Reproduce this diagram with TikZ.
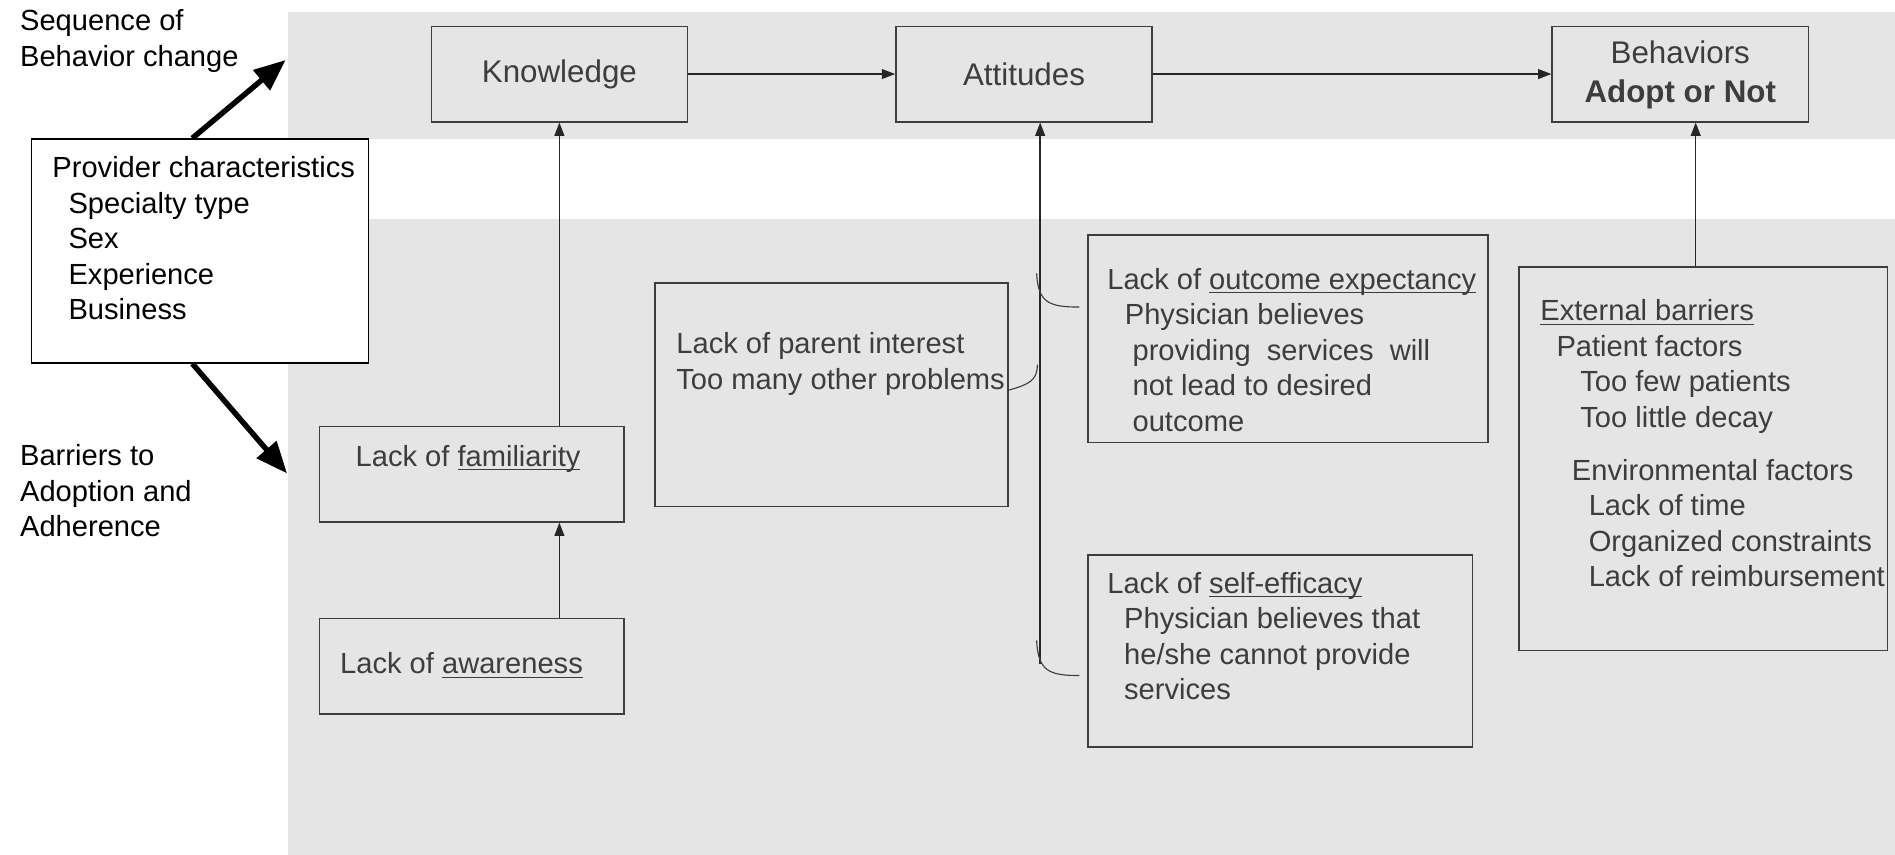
\documentclass[tikz,border=0pt]{standalone}
\usepackage{fontspec}
\setmainfont{Liberation Sans}
\usetikzlibrary{positioning, arrows.meta}
\definecolor{bandgray}{gray}{0.9}
\definecolor{inkgray}{gray}{0.24}
\newcommand{\ulword}[1]{\underline{\smash{#1}}}
\tikzset{
>={Triangle[length=0.19cm,width=0.14cm]}, % small filled heads
box/.style={draw=inkgray, line width=0.6pt, inner sep=0pt},
stage/.style={box, minimum width=3.65cm, minimum height=1.36cm, text=inkgray, align=center, font=\fontsize{12.7}{15.6}\selectfont},
txt/.style={text=inkgray, align=left, inner sep=0pt, font=\fontsize{11.8}{14.4}\selectfont},
lbl/.style={align=left, inner sep=0pt, font=\fontsize{11.8}{14.4}\selectfont},
link/.style={draw=black!85, line width=0.6pt, ->},
hook/.style={draw=inkgray, line width=0.45pt},
bigarrow/.style={line width=2.2pt, -{Triangle[length=0.45cm,width=0.36cm]}},
}
\begin{document}
\begin{tikzpicture}
        \useasboundingbox (0,0) rectangle (27.0,12.175);
        % shaded bands
        \fill[bandgray] (4.10,10.195) rectangle (27.0,12.008);
        \fill[bandgray] (4.10,0) rectangle (27.0,9.05);

        % sequence of behavior change
        \node[stage] at (7.97,11.12) (know) {\raisebox{-0.04cm}{Knowledge}};
        \node[stage] at (14.59,11.12) (att) {Attitudes};
        \node[stage, text depth=0.07cm] at (23.94,11.12) (beh) {Behaviors\\\textbf{Adopt or Not}};

        % left side labels
        \node[lbl, anchor=west] at (0.28,11.59) (seq) {Sequence of\\Behavior change};
        \node[lbl, anchor=west] at (0.28,5.18) (barr) {Barriers to\\Adoption and\\Adherence};
        \node[draw, fill=white, line width=0.6pt, minimum width=4.80cm, minimum height=3.19cm] at (2.85,8.60) (prov) {};
        \node[lbl, anchor=west] at (0.74,8.78) (provtxt) {Provider characteristics\\\hspace*{0.23cm}Specialty type\\\hspace*{0.23cm}Sex\\\hspace*{0.23cm}Experience\\\hspace*{0.23cm}Business};

        % barriers
        \node[box, minimum width=4.34cm, minimum height=1.36cm] at (6.72,5.42) (fam) {};
        \node[txt, anchor=west] at (5.06,5.65) (famtxt) {Lack of \ulword{familiarity}};
        \node[box, minimum width=4.34cm, minimum height=1.36cm] at (6.72,2.68) (aware) {};
        \node[txt, anchor=west] at (4.84,2.69) (awaretxt) {Lack of \ulword{awareness}};
        \node[box, minimum width=5.03cm, minimum height=3.19cm] at (11.85,6.55) (par) {};
        \node[txt, anchor=west] at (9.63,6.99) (partxt) {Lack of parent interest\\Too many other problems};
        \node[box, minimum width=5.70cm, minimum height=2.96cm] at (18.35,7.35) (out) {};
        \node[txt, anchor=west] at (15.77,7.19) (outtxt) {Lack of \ulword{outcome expectancy}\\\hspace*{0.25cm}Physician believes\\\hspace*{0.36cm}providing~ services~ will\\\hspace*{0.36cm}not lead to desired\\\hspace*{0.36cm}outcome};
        \node[box, minimum width=5.48cm, minimum height=2.74cm] at (18.24,2.90) (self) {};
        \node[txt, anchor=west] at (15.77,3.11) (selftxt) {Lack of \ulword{self-efficacy}\\\hspace*{0.24cm}Physician believes that\\\hspace*{0.24cm}he/she cannot provide\\\hspace*{0.24cm}services};
        \node[box, minimum width=5.25cm, minimum height=5.46cm] at (24.27,5.64) (ext) {};
        \node[txt, anchor=west] at (21.94,5.71) (exttxt) {\ulword{External barriers}\\\hspace*{0.23cm}Patient factors\\\hspace*{0.57cm}Too few patients\\\hspace*{0.57cm}Too little decay\\[7pt]\hspace*{0.45cm}Environmental factors\\\hspace*{0.69cm}Lack of time\\\hspace*{0.69cm}Organized constraints\\\hspace*{0.69cm}Lack of reimbursement};

        % connectors
        \coordinate (spine) at (14.82,2.72);
        \coordinate (hooktop) at (14.77,8.28);
        \coordinate (hookmid) at (14.78,6.98);
        \coordinate (hookbot) at (14.77,3.05);
        \coordinate (seqtip) at (4.07,11.32);
        \coordinate (barrtip) at (4.09,5.43);
        \draw[link] (know.east) -- (att.west);
        \draw[link] (att.east) -- (beh.west);
        \draw[link] (fam.north -| know.south) -- (know.south);
        \draw[link] (aware.north -| know.south) -- (fam.south -| know.south);
        \draw[link] (spine) -- (att.south -| spine);
        \draw[link] (ext.north -| 24.16,0) -- (beh.south -| 24.16,0);
        \draw[hook] (hooktop) .. controls (14.79,7.86) and (14.95,7.80) .. ([shift={(-0.11,0.45)}]out.west);
        \draw[hook] ([shift={(-0.02,0.06)}]par.east) .. controls (14.65,6.70) and (14.78,6.74) .. (hookmid);
        \draw[hook] (hookbot) .. controls (14.79,2.61) and (14.95,2.55) .. ([shift={(-0.11,-0.35)}]self.west);
        \draw[bigarrow] ([xshift=-0.11cm]prov.north) -- (seqtip);
        \draw[bigarrow] ([xshift=-0.11cm]prov.south) -- (barrtip);
\end{tikzpicture}
\end{document}
